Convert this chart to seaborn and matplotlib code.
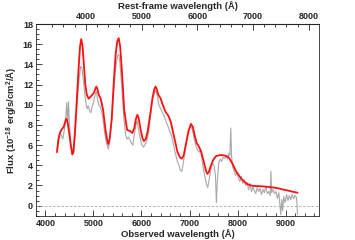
import numpy as np
import pandas as pd
import seaborn as sns
import matplotlib
matplotlib.use('Agg')
import matplotlib.pyplot as plt
from matplotlib.ticker import MultipleLocator, FixedLocator

# observed spectrum (grey)
obs_wave = [4240, 4270, 4300, 4330, 4360, 4390, 4420, 4445, 4460, 4480, 4500, 4530, 4560, 4590,
            4620, 4650, 4690, 4730, 4760, 4790, 4820, 4850, 4870, 4890, 4920, 4945, 4970, 5000,
            5030, 5060, 5090, 5110, 5140, 5170, 5200, 5230, 5270, 5310, 5340, 5380, 5420, 5460,
            5500, 5525, 5550, 5590, 5630, 5670, 5700, 5730, 5760, 5790, 5820, 5850, 5880, 5910,
            5940, 5970, 6000, 6040, 6070, 6110, 6150, 6190, 6230, 6270, 6300, 6330, 6360, 6390,
            6420, 6460, 6500, 6540, 6580, 6620, 6660, 6700, 6740, 6780, 6810, 6840, 6870, 6910,
            6950, 6990, 7030, 7060, 7100, 7140, 7170, 7200, 7230, 7260, 7290, 7320, 7350, 7380,
            7410, 7440, 7480, 7510, 7540, 7560, 7580, 7610, 7640, 7670, 7700, 7730, 7760, 7790,
            7820, 7840, 7860, 7875, 7900, 7930, 7960, 7990, 8020, 8050, 8080, 8110, 8140, 8170,
            8200, 8230, 8260, 8290, 8320, 8350, 8380, 8410, 8440, 8470, 8500, 8530, 8560, 8590,
            8620, 8650, 8680, 8695, 8710, 8740, 8770, 8800, 8830, 8860, 8880, 8900, 8920, 8940,
            8960, 8990, 9020, 9050, 9080, 9110, 9140, 9170, 9200, 9230, 9250]
obs_flux = [5.5, 6.8, 7.2, 7.0, 6.6, 7.4, 8.5, 10.2, 8.0, 10.3, 8.0, 6.0, 5.0, 5.3,
            7.0, 9.5, 12.0, 13.8, 13.6, 12.4, 11.0, 10.0, 9.6, 9.9, 9.4, 9.2, 9.8, 10.2,
            10.9, 11.3, 10.4, 10.0, 9.8, 9.3, 8.6, 7.3, 6.2, 5.6, 6.5, 8.5, 11.2, 13.6,
            14.8, 15.0, 14.2, 11.8, 8.8, 7.0, 6.6, 6.8, 6.5, 6.2, 6.0, 7.0, 7.9, 8.4,
            7.5, 6.8, 6.1, 5.8, 6.0, 6.4, 7.3, 9.0, 10.5, 11.2, 11.4, 10.8, 10.0, 9.7,
            9.4, 9.0, 8.5, 8.0, 7.5, 7.0, 6.2, 5.3, 4.5, 4.0, 3.5, 3.4, 4.2, 5.5,
            6.8, 7.6, 7.9, 7.5, 6.6, 5.8, 5.5, 5.3, 5.5, 4.6, 3.6, 2.9, 2.2, 1.8,
            2.6, 3.5, 4.2, 4.0, 3.0, 0.3, 2.5, 4.3, 4.6, 4.4, 4.8, 4.7, 4.9, 4.6,
            5.2, 5.0, 7.7, 5.0, 3.8, 3.4, 3.0, 3.3, 2.7, 2.4, 2.9, 2.2, 2.6, 2.0,
            2.3, 1.6, 2.2, 1.4, 1.9, 1.5, 1.2, 1.8, 1.4, 1.7, 1.1, 1.6, 1.3, 1.9,
            1.2, 1.4, 1.0, 3.4, 1.3, 1.6, 1.2, 1.4, 0.7, 1.3, 0.2, -0.9, 0.6, -0.5,
            0.9, 0.3, 1.1, 0.5, 1.0, 0.6, 1.1, 0.7, 1.0, 0.8, -0.9]

# model fit (red)
fit_wave = [4240, 4270, 4300, 4330, 4380, 4410, 4430, 4450, 4470, 4500, 4530, 4560, 4580, 4610,
            4650, 4690, 4720, 4745, 4770, 4800, 4830, 4860, 4900, 4960, 5010, 5040, 5060, 5080,
            5110, 5150, 5200, 5250, 5285, 5310, 5340, 5380, 5420, 5460, 5495, 5525, 5555, 5590,
            5640, 5700, 5760, 5810, 5850, 5890, 5915, 5940, 5980, 6020, 6050, 6090, 6130, 6180,
            6230, 6270, 6295, 6320, 6350, 6400, 6450, 6500, 6560, 6610, 6680, 6750, 6800, 6840,
            6880, 6930, 6980, 7030, 7070, 7110, 7150, 7190, 7240, 7300, 7340, 7370, 7400, 7440,
            7490, 7550, 7620, 7700, 7780, 7830, 7900, 7970, 8050, 8120, 8200, 8280, 8350, 8450,
            8550, 8650, 8750, 8850, 8950, 9050, 9150, 9250]
fit_flux = [5.3, 6.5, 7.2, 7.5, 7.8, 8.3, 8.6, 8.5, 8.0, 7.0, 5.9, 5.1, 5.3, 7.0,
            10.2, 13.6, 15.8, 16.5, 15.9, 14.0, 12.0, 11.0, 10.6, 10.9, 11.2, 11.6, 11.8, 11.6,
            11.0, 10.6, 9.5, 7.5, 6.5, 6.1, 6.7, 8.6, 12.0, 14.9, 16.3, 16.6, 15.8, 13.5,
            9.5, 7.5, 7.4, 7.2, 7.7, 8.7, 9.0, 8.7, 7.6, 6.7, 6.4, 6.6, 7.4, 9.0,
            10.7, 11.6, 11.8, 11.5, 11.0, 10.6, 9.9, 9.3, 8.9, 8.3, 6.8, 5.3, 4.8, 4.65,
            5.0, 6.2, 7.4, 8.1, 7.8, 6.9, 6.2, 5.9, 5.4, 4.3, 3.5, 3.15, 3.3, 3.9,
            4.5, 4.9, 5.0, 5.0, 4.9, 4.7, 4.1, 3.4, 2.85, 2.45, 2.15, 2.0, 1.95, 1.93,
            1.9, 1.85, 1.8, 1.72, 1.6, 1.5, 1.38, 1.28]

top_ticks = [4000, 5000, 6000, 7000, 8000]

obs = pd.DataFrame({'wave': obs_wave, 'flux': obs_flux})
fit = pd.DataFrame({'wave': fit_wave, 'flux': fit_flux})

sns.set_style('ticks')
plt.rcParams['font.family'] = ['Liberation Sans', 'DejaVu Sans']
plt.rcParams['font.weight'] = 'bold'
plt.rcParams['mathtext.fontset'] = 'custom'
plt.rcParams['mathtext.rm'] = 'Liberation Sans:bold'
plt.rcParams['mathtext.default'] = 'rm'

fig = plt.figure(figsize=(3.55, 2.4), dpi=100)
ax = fig.add_axes([0.101, 0.101, 0.798, 0.799])

ax.axhline(0, color='#aaaaaa', lw=0.6, ls=(0, (3, 2)))
sns.lineplot(data=obs, x='wave', y='flux', color='#a8a8a8', lw=0.8, ax=ax)
sns.lineplot(data=fit, x='wave', y='flux', color='#ff1010', lw=1.3, ax=ax)

ax.set_xlim(3800, 9700)
ax.set_ylim(-1, 18)
ax.xaxis.set_major_locator(MultipleLocator(1000))
ax.xaxis.set_minor_locator(MultipleLocator(200))
ax.yaxis.set_major_locator(MultipleLocator(2))
ax.yaxis.set_minor_locator(MultipleLocator(0.5))
ax.tick_params(which='both', direction='in', labelsize=6.5, width=0.6, pad=2)
ax.tick_params(which='major', length=4)
ax.tick_params(which='minor', length=2)
for s in ax.spines.values():
    s.set_linewidth(0.6)

ax.set_xlabel('Observed wavelength (Å)', fontsize=6.8, fontweight='bold', labelpad=1)
ax.set_ylabel('Flux (10$^{-18}$ erg/s/cm$^{2}$/Å)', fontsize=6.8, fontweight='bold', labelpad=3)

# rest-frame axis on top
top = ax.secondary_xaxis('top', functions=(lambda x: (x - 196) / 1.161, lambda r: r * 1.161 + 196))
top.xaxis.set_major_locator(FixedLocator(top_ticks))
top.xaxis.set_minor_locator(FixedLocator(np.arange(3400, 8201, 200)))
top.tick_params(which='both', direction='in', labelsize=6.5, width=0.6, pad=2)
top.tick_params(which='major', length=4)
top.tick_params(which='minor', length=2)
top.set_xlabel('Rest-frame wavelength (Å)', fontsize=6.8, fontweight='bold', labelpad=2)

plt.savefig('out.png', dpi=100)
